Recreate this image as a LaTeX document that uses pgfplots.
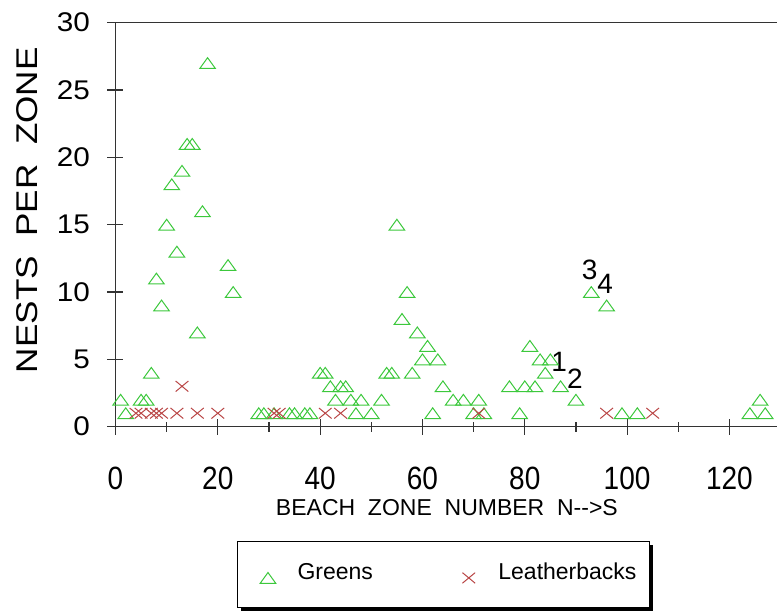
\documentclass[border=0pt]{standalone}
\usepackage{fontspec}
\setmainfont{Liberation Sans}
\usepackage{graphicx}
\usepackage{pgfplots}
\pgfplotsset{compat=1.18}
\definecolor{tgreen}{RGB}{60,200,60}
\definecolor{tred}{RGB}{185,70,70}
\pgfplotstableread{
x y
1 2
2 1
5 2
6 2
7 4
8 11
9 9
10 15
11 18
12 13
13 19
14 21
15 21
16 7
17 16
18 27
22 12
23 10
28 1
29 1
31 1
34 1
35 1
37 1
38 1
40 4
41 4
42 3
43 2
44 3
45 3
46 2
47 1
48 2
50 1
52 2
53 4
54 4
55 15
56 8
57 10
58 4
59 7
60 5
61 6
62 1
63 5
64 3
66 2
68 2
70 1
71 2
72 1
77 3
79 1
80 3
81 6
82 3
83 5
84 4
85 5
87 3
90 2
93 10
96 9
99 1
102 1
124 1
126 2
127 1
}\greens
\pgfplotstableread{
x y
4 1
5 1
7 1
8 1
9 1
12 1
13 3
16 1
20 1
31 1
32 1
41 1
44 1
71 1
96 1
105 1
}\leathers
\begin{document}
\begin{tikzpicture}
\useasboundingbox (-115.5pt,-185.3pt) rectangle (661.5pt,426.7pt);
\fill[black] (125.5pt,-118.3pt) rectangle (537.5pt,-184.3pt);
\draw[black, line width=1pt, fill=white] (121.5pt,-115.3pt) rectangle (533.5pt,-181.3pt);
\begin{axis}[
  width=661.5pt, height=404pt, scale only axis,
  xmin=0, xmax=129.3, ymin=0, ymax=30,
  axis x line=box, axis y line=left,
  axis line style={-, black!80, line width=1.2pt},
  y axis line style={-},
  xtick={0,20,...,120}, minor xtick={10,30,...,110}, ytick={0,5,...,30},
  xtick pos=bottom, ytick pos=left,
  tick align=center, major tick length=16pt, minor tick length=10pt,
  tick style={black!80, line width=1.2pt},
  /pgf/number format/assume math mode=true,
  xticklabel={\scalebox{1}[1.15]{\pgfmathprintnumber{\tick}}},
  yticklabel={\scalebox{1.1}[1]{\pgfmathprintnumber{\tick}}},
  x tick label style={font=\fontsize{28}{28}\selectfont, yshift=-29pt},
  y tick label style={font=\fontsize{27}{27}\selectfont, xshift=-14pt},
  xlabel={BEACH~~ZONE~~NUMBER~~N-{}-{}>S},
  xlabel style={font=\fontsize{23}{23}\selectfont, at={(axis description cs:0.501,-0.201)}, anchor=center},
  ylabel={\scalebox{1.17}[1]{NESTS~~PER~~ZONE}},
  ylabel style={font=\fontsize{30}{30}\selectfont, at={(axis description cs:-0.133,0.536)}, anchor=center},
  legend columns=2,
  legend style={draw=none, fill=none, at={(axis description cs:0.2042,-0.362)}, anchor=west,
    font=\fontsize{23}{23}\selectfont, inner sep=0pt, nodes={inner sep=0pt, anchor=base west},
    /tikz/every odd column/.append style={column sep=12.4pt},
    /tikz/every even column/.append style={column sep=78.6pt}},
  legend image code/.code={\path (0pt,0pt) (34pt,0pt); \draw[#1] plot coordinates {(17pt,1.3pt)};},
]
\addplot[only marks, mark=triangle, mark size=9pt, color=tgreen,
  mark options={yshift=-1.8pt, yscale=0.8, line width=1pt}] table[x=x,y=y] {\greens};
\addlegendentry{Greens}
\addplot[only marks, mark=x, mark size=9pt, color=tred,
  mark options={yscale=0.83, line width=1pt}] table[x=x,y=y] {\leathers};
\addlegendentry{Leatherbacks}
\node[font=\fontsize{28}{28}\selectfont] at (axis cs:86.7,4.78) {1};
\node[font=\fontsize{28}{28}\selectfont] at (axis cs:89.8,3.59) {2};
\node[font=\fontsize{28}{28}\selectfont] at (axis cs:92.7,11.68) {3};
\node[font=\fontsize{28}{28}\selectfont] at (axis cs:95.7,10.64) {4};
\end{axis}
\end{tikzpicture}
\end{document}
